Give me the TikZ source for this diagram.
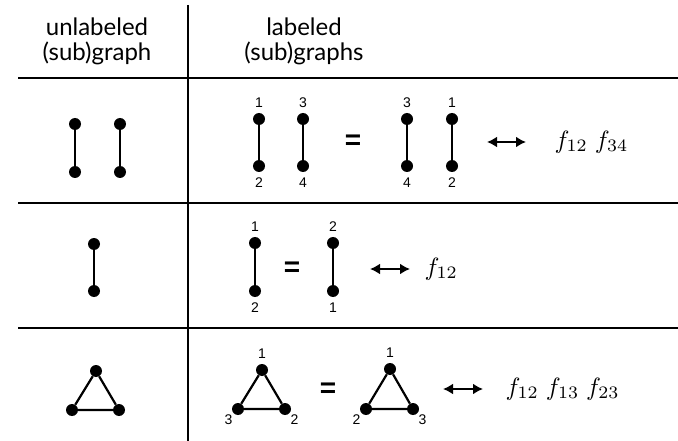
\documentclass[tikz,border=0pt]{standalone}
\usepackage{amsmath}
\usepackage{fontspec}
\setmainfont{Lato}
\newfontfamily\labelfont{Liberation Sans}
\usetikzlibrary{positioning,arrows.meta}

\begin{document}
\begin{tikzpicture}[x=1pt, y=-1pt,
    dot/.style={circle, fill, inner sep=0pt, minimum size=12pt},
    edge/.style={line width=2.2pt},
    rule/.style={line width=2.4pt},
    lbl/.style={font=\labelfont\fontsize{14}{16}\selectfont, inner sep=1pt},
    eqsign/.style={font=\labelfont\bfseries\fontsize{28}{30}\selectfont},
    corr/.style={line width=2pt, {Latex[length=10pt,width=11pt]}-{Latex[length=10pt,width=11pt]}},
    fmath/.style={anchor=west, inner sep=0pt, font=\normalsize, scale=2.5, transform shape},
    head/.style={align=center, font=\fontsize{24}{25}\selectfont}]
  \useasboundingbox (0,0) rectangle (678,441);

  % table
  \coordinate (vtop) at (188,5);
  \coordinate (vbot) at (188,441);
  \coordinate (h1l) at (18,78);  \coordinate (h1r) at (678,78);
  \coordinate (h2l) at (18,203); \coordinate (h2r) at (678,203);
  \coordinate (h3l) at (18,328); \coordinate (h3r) at (678,328);
  \draw[rule] (vtop) -- (vbot);
  \draw[rule] (h1l) -- (h1r);
  \draw[rule] (h2l) -- (h2r);
  \draw[rule] (h3l) -- (h3r);

  \node[head] (hleft) at (97,41) {unlabeled\\(sub)graph};
  \node[head] (hright) at (304,41) {labeled\\(sub)graphs};

  % row 1: two edges
  \node[dot] (u1a) at (75,124) {};
  \node[dot] (u1b) at (75,172) {};
  \node[dot] (u1c) at (120,124) {};
  \node[dot] (u1d) at (120,172) {};
  \draw[edge] (u1a) -- (u1b);
  \draw[edge] (u1c) -- (u1d);

  \node[dot] (p1a) at (259,119) {};
  \node[dot] (p1b) at (259,166) {};
  \node[dot] (p1c) at (303,119) {};
  \node[dot] (p1d) at (303,166) {};
  \draw[edge] (p1a) -- (p1b);
  \draw[edge] (p1c) -- (p1d);
  \node[lbl, above=4pt of p1a] {1};
  \node[lbl, below=4pt of p1b] {2};
  \node[lbl, above=4pt of p1c] {3};
  \node[lbl, below=4pt of p1d] {4};

  \node[eqsign] (eq1) at (353,142) {=};

  \node[dot] (q1a) at (407,119) {};
  \node[dot] (q1b) at (407,166) {};
  \node[dot] (q1c) at (452,119) {};
  \node[dot] (q1d) at (452,166) {};
  \draw[edge] (q1a) -- (q1b);
  \draw[edge] (q1c) -- (q1d);
  \node[lbl, above=4pt of q1a] {3};
  \node[lbl, below=4pt of q1b] {4};
  \node[lbl, above=4pt of q1c] {1};
  \node[lbl, below=4pt of q1d] {2};

  \coordinate (ar1a) at (487,142);
  \coordinate (ar1b) at (526,142);
  \draw[corr] (ar1a) -- (ar1b);
  \node[fmath] (f1) at (554,142) {$f_{12}\;f_{34}$};

  % row 2: one edge
  \node[dot] (u2a) at (94,244) {};
  \node[dot] (u2b) at (94,291) {};
  \draw[edge] (u2a) -- (u2b);

  \node[dot] (p2a) at (255,243) {};
  \node[dot] (p2b) at (255,291) {};
  \draw[edge] (p2a) -- (p2b);
  \node[lbl, above=4pt of p2a] {1};
  \node[lbl, below=4pt of p2b] {2};

  \node[eqsign] (eq2) at (292,269) {=};

  \node[dot] (q2a) at (333,243) {};
  \node[dot] (q2b) at (333,291) {};
  \draw[edge] (q2a) -- (q2b);
  \node[lbl, above=4pt of q2a] {2};
  \node[lbl, below=4pt of q2b] {1};

  \coordinate (ar2a) at (370,269);
  \coordinate (ar2b) at (410,269);
  \draw[corr] (ar2a) -- (ar2b);
  \node[fmath] (f2) at (424,269) {$f_{12}$};

  % row 3: triangle
  \node[dot] (u3a) at (96,371) {};
  \node[dot] (u3b) at (72,410) {};
  \node[dot] (u3c) at (119,410) {};
  \draw[edge] (u3a) -- (u3b) -- (u3c) -- (u3a);

  \node[dot] (p3a) at (262,370) {};
  \node[dot] (p3b) at (238,409) {};
  \node[dot] (p3c) at (285,409) {};
  \draw[edge] (p3a) -- (p3b) -- (p3c) -- (p3a);
  \node[lbl, above=4pt of p3a] {1};
  \node[lbl, below left=0pt and 0pt of p3b] {3};
  \node[lbl, below right=0pt and 0pt of p3c] {2};

  \node[eqsign] (eq3) at (328,390) {=};

  \node[dot] (q3a) at (390,369) {};
  \node[dot] (q3b) at (366,409) {};
  \node[dot] (q3c) at (413,409) {};
  \draw[edge] (q3a) -- (q3b) -- (q3c) -- (q3a);
  \node[lbl, above=4pt of q3a] {1};
  \node[lbl, below left=0pt and 0pt of q3b] {2};
  \node[lbl, below right=0pt and 0pt of q3c] {3};

  \coordinate (ar3a) at (443,389);
  \coordinate (ar3b) at (483,389);
  \draw[corr] (ar3a) -- (ar3b);
  \node[fmath] (f3) at (505,389) {$f_{12}\;f_{13}\;f_{23}$};
\end{tikzpicture}
\end{document}
